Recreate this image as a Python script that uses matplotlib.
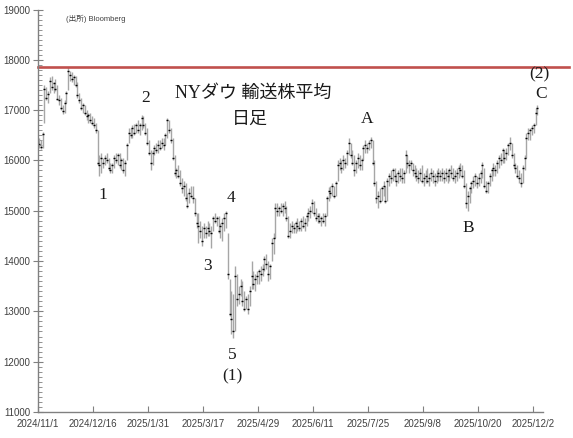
import numpy as np
import matplotlib
matplotlib.use('Agg')
import matplotlib.pyplot as plt
from matplotlib.ticker import MultipleLocator

plt.rcParams['font.family'] = ['Liberation Sans', 'Noto Sans CJK JP']

# x tick labels, one every 30 trading days
tick_labels = ['2024/11/1', '2024/12/16', '2025/1/31', '2025/3/17', '2025/4/29',
               '2025/6/11', '2025/7/25', '2025/9/8', '2025/10/20', '2025/12/2']

# daily high / low / close of the Dow transports
high = [16450, 16400, 16560, 17500, 17450, 17380, 17650, 17680, 17560, 17620,
        17500, 17300, 17250, 17100, 17200, 17380, 17850, 17780, 17750, 17700,
        17680, 17550, 17350, 17250, 17150, 17100, 17000, 16950, 16950, 16880,
        16850, 16750, 16600, 16100, 16150, 16050, 16100, 16150, 16050, 15950,
        15950, 16100, 16150, 16150, 16150, 16050, 16050, 16000, 16350, 16650,
        16650, 16700, 16720, 16750, 16800, 16750, 16900, 16880, 16750, 16650,
        16400, 16200, 16200, 16300, 16350, 16400, 16400, 16450, 16450, 16550,
        16850, 16800, 16650, 16450, 16100, 15850, 15900, 15800, 15650, 15600,
        15550, 15350, 15450, 15500, 15500, 15250, 14950, 14950, 14800, 14700,
        14750, 14700, 14800, 14750, 14700, 14900, 14950, 14900, 14900, 14750,
        14850, 14950, 15000, 14550, 13650, 13400, 13350, 13900, 13750, 13500,
        13650, 13600, 13400, 13300, 13350, 13500, 14000, 13800, 13750, 13800,
        13850, 13900, 13950, 14100, 14150, 14000, 13950, 14450, 14550, 15150,
        15150, 15100, 15150, 15150, 15200, 15100, 14900, 14750, 14800, 14750,
        14800, 14850, 14800, 14850, 14900, 14850, 14950, 15050, 15100, 15230,
        15200, 15050, 14950, 14950, 14900, 14950, 14950, 15300, 15480, 15500,
        15550, 15500, 15600, 16000, 16050, 16000, 16100, 16050, 16200, 16450,
        16350, 16200, 16100, 16000, 16150, 16100, 16050, 16300, 16400, 16350,
        16400, 16470, 16400, 16000, 15600, 15400, 15450, 15500, 15600, 15500,
        15650, 15750, 15800, 15850, 15850, 15750, 15800, 15850, 15850, 15800,
        16200, 16100, 16000, 16000, 15950, 15900, 15850, 15800, 15850, 15900,
        15750, 15800, 15850, 15750, 15850, 15800, 15750, 15800, 15850, 15800,
        15850, 15800, 15850, 15800, 15850, 15900, 15850, 15800, 15850, 15900,
        15950, 15900, 15800, 15550, 15400, 15500, 15600, 15700, 15750, 15700,
        15750, 15800, 15970, 15850, 15600, 15600, 15750, 15850, 15950, 15900,
        16000, 16100, 16150, 16250, 16200, 16250, 16350, 16460, 16350, 16150,
        15950, 15900, 15800, 15750, 15900, 16100, 16550, 16650, 16650, 16700,
        16750, 17050, 17100]

low = [16250, 16230, 16250, 16750, 17200, 17150, 17350, 17400, 17350, 17380,
       17200, 17100, 17000, 16930, 16950, 17150, 17400, 17580, 17550, 17500,
       17450, 17250, 17150, 17000, 16950, 16900, 16800, 16750, 16750, 16700,
       16650, 16550, 15900, 15700, 15750, 15850, 15900, 15950, 15800, 15750,
       15750, 15850, 15950, 15900, 15850, 15800, 15750, 15700, 16000, 16350,
       16450, 16450, 16500, 16550, 16550, 16500, 16600, 16650, 16500, 16300,
       16100, 15800, 15900, 16100, 16150, 16150, 16200, 16250, 16200, 16300,
       16450, 16550, 16350, 16000, 15700, 15650, 15650, 15500, 15350, 15300,
       15200, 15050, 15150, 15250, 15150, 14900, 14650, 14350, 14450, 14300,
       14450, 14450, 14500, 14500, 14250, 14600, 14750, 14700, 14550, 14450,
       14400, 14600, 14650, 13650, 12900, 12550, 12470, 12600, 13100, 13150,
       13300, 13100, 13000, 13050, 12950, 13100, 13450, 13450, 13400, 13550,
       13550, 13600, 13700, 13800, 13850, 13600, 13650, 14000, 14150, 14450,
       14900, 14900, 14950, 14900, 14950, 14800, 14450, 14450, 14550, 14550,
       14550, 14600, 14600, 14600, 14650, 14600, 14700, 14800, 14850, 14950,
       14900, 14800, 14750, 14750, 14700, 14750, 14700, 14900, 15200, 15250,
       15300, 15250, 15300, 15600, 15800, 15750, 15800, 15850, 15900, 16100,
       16050, 15900, 15700, 15750, 15850, 15800, 15800, 16000, 16150, 16150,
       16200, 16250, 15900, 15500, 15150, 15050, 15150, 15200, 15300, 15150,
       15200, 15500, 15550, 15600, 15600, 15500, 15550, 15600, 15550, 15550,
       15750, 15850, 15750, 15800, 15700, 15650, 15600, 15550, 15600, 15550,
       15500, 15550, 15550, 15500, 15600, 15550, 15500, 15550, 15600, 15600,
       15600, 15550, 15600, 15550, 15600, 15650, 15600, 15550, 15600, 15650,
       15700, 15650, 15450, 15050, 15000, 15150, 15350, 15450, 15500, 15450,
       15500, 15550, 15650, 15450, 15350, 15350, 15500, 15600, 15700, 15700,
       15750, 15850, 15900, 15950, 15950, 16000, 16100, 16200, 16050, 15850,
       15750, 15650, 15550, 15480, 15550, 15800, 16050, 16400, 16400, 16500,
       16550, 16700, 16900]

close = [16320, 16270, 16530, 17420, 17250, 17330, 17580, 17450, 17530, 17420,
         17230, 17200, 17050, 16980, 17150, 17350, 17780, 17700, 17620, 17650,
         17500, 17300, 17200, 17050, 17100, 16950, 16880, 16900, 16800, 16750,
         16700, 16600, 15950, 15900, 16050, 15950, 16050, 16000, 15850, 15800,
         15900, 16050, 16000, 16100, 15900, 16000, 15800, 15950, 16300, 16550,
         16500, 16650, 16550, 16700, 16600, 16700, 16850, 16700, 16550, 16350,
         16150, 15950, 16150, 16250, 16200, 16300, 16250, 16350, 16300, 16500,
         16800, 16600, 16400, 16050, 15750, 15800, 15700, 15550, 15450, 15500,
         15250, 15100, 15350, 15300, 15250, 14950, 14750, 14700, 14600, 14400,
         14650, 14550, 14650, 14600, 14550, 14850, 14800, 14850, 14600, 14700,
         14750, 14850, 14950, 13750, 12950, 12850, 12600, 13700, 13250, 13350,
         13500, 13200, 13050, 13250, 13050, 13400, 13700, 13550, 13650, 13700,
         13800, 13750, 13850, 14050, 13950, 13750, 13900, 14350, 14450, 15050,
         15000, 15050, 15000, 15100, 15050, 14850, 14500, 14600, 14700, 14650,
         14750, 14700, 14650, 14800, 14700, 14750, 14900, 14950, 15000, 15150,
         14950, 14850, 14900, 14800, 14850, 14800, 14900, 15250, 15400, 15350,
         15500, 15300, 15550, 15900, 15950, 15850, 16000, 15950, 16150, 16350,
         16100, 15950, 15800, 15950, 16050, 15900, 16000, 16250, 16300, 16250,
         16350, 16400, 15950, 15550, 15250, 15300, 15200, 15450, 15500, 15200,
         15600, 15700, 15650, 15800, 15700, 15600, 15750, 15700, 15650, 15750,
         16100, 15950, 15900, 15950, 15800, 15750, 15700, 15650, 15750, 15600,
         15650, 15700, 15600, 15650, 15750, 15700, 15600, 15700, 15750, 15700,
         15750, 15650, 15750, 15700, 15800, 15750, 15650, 15700, 15750, 15850,
         15800, 15700, 15500, 15150, 15300, 15450, 15550, 15600, 15700, 15550,
         15650, 15750, 15900, 15500, 15400, 15550, 15700, 15800, 15850, 15800,
         15950, 16050, 16000, 16200, 16050, 16150, 16300, 16350, 16100, 15900,
         15850, 15700, 15650, 15550, 15850, 16050, 16450, 16550, 16600, 16650,
         16700, 16950, 17050]

red_level = 17850  # previous high

# Elliott wave labels: text, trading-day index, value
wave_text = ['1', '2', '3', '4', '5', '(1)', 'A', 'B', 'C', '(2)']
wave_idx = [35, 58, 92, 105, 105.3, 105.3, 179, 234, 274, 273]
wave_val = [15310, 17240, 13900, 15250, 12130, 11710, 16820, 14660, 17320, 17720]

fig = plt.figure(figsize=(5.73, 4.38), dpi=100)
ax = fig.add_axes([0.0663, 0.0594, 0.8813, 0.9189])

x = np.arange(len(close))
ax.vlines(x, low, high, color='#a6a6a6', lw=1.0)
ax.plot(x, close, ls='none', marker='_', ms=2.0, mew=1.0, color='black')

ax.axhline(red_level, xmin=0, xmax=1.052, color='#c0504d', lw=1.9, clip_on=False)

ax.set_xlim(-0.5, 275)
ax.set_ylim(11000, 19000)
ax.yaxis.set_major_locator(MultipleLocator(1000))
ax.yaxis.set_minor_locator(MultipleLocator(100))
ax.set_xticks(np.arange(len(tick_labels)) * 30 - 0.5)
ax.set_xticklabels(tick_labels)

for s in ['top', 'right']:
    ax.spines[s].set_visible(False)
for s in ['left', 'bottom']:
    ax.spines[s].set_color('#808080')
    ax.spines[s].set_linewidth(1.0)

ax.tick_params(axis='x', direction='in', length=4, color='#808080',
               labelsize=7, labelcolor='#404040', pad=5)
ax.tick_params(axis='y', which='major', direction='inout', length=7,
               color='#808080', labelsize=7, labelcolor='#404040', pad=2)
ax.tick_params(axis='y', which='minor', direction='in', length=3, color='#808080')

for t, xi, v in zip(wave_text, wave_idx, wave_val):
    ax.text(xi, v, t, ha='center', va='center', fontsize=12.5,
            family=['Liberation Serif'], color='#1a1a1a')

fig.text(0.4415, 0.788, 'NYダウ 輸送株平均', ha='center', va='center', fontsize=13,
         family=['Liberation Serif', 'Noto Sans CJK JP'], color='#1a1a1a')
fig.text(0.4363, 0.728, '日足', ha='center', va='center', fontsize=13,
         family=['Liberation Serif', 'Noto Sans CJK JP'], color='#1a1a1a')
fig.text(0.115, 0.958, '(出所) Bloomberg', ha='left', va='center', fontsize=5.5,
         family=['Liberation Sans', 'Noto Sans CJK JP'], color='#404040')

fig.savefig('out.png', dpi=100)
